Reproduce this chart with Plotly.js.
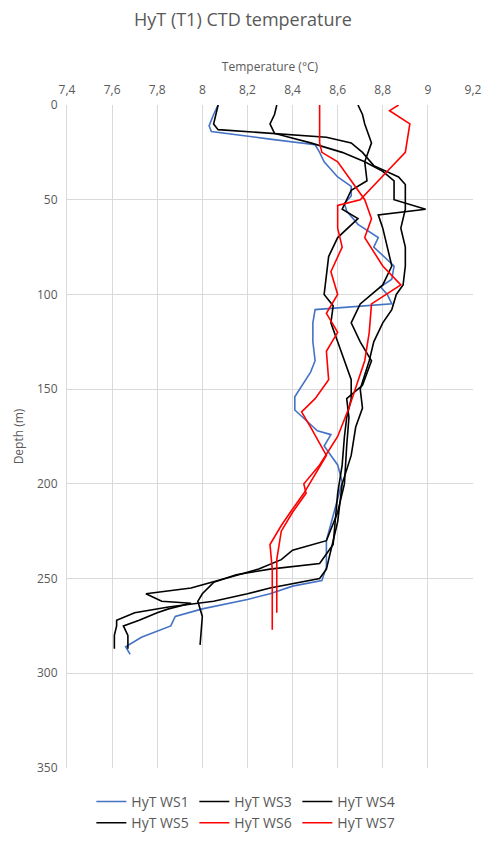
<!DOCTYPE html>
<html>
<head>
<meta charset="utf-8">
<script src="https://cdn.plot.ly/plotly-3.0.1.min.js"></script>
<style>html,body{margin:0;padding:0;background:#fff}#plot{width:486px;height:841px}</style>
</head>
<body>
<div id="plot"></div>
<script>
// DATA ====================================================
var ws1_depth = [0, 5, 11, 14, 18, 21, 25, 30, 38, 43, 48, 52, 56, 63, 70, 75, 85, 92, 96, 100, 105, 108, 115, 125, 135, 141, 154, 161, 172, 174, 180, 190, 199, 216, 230, 244, 251, 254, 258, 261, 266, 270, 275, 281, 286, 290];
var ws1_temp  = [8.07, 8.05, 8.03, 8.04, 8.3, 8.5, 8.52, 8.54, 8.6, 8.66, 8.66, 8.63, 8.64, 8.69, 8.78, 8.76, 8.85, 8.84, 8.79, 8.82, 8.84, 8.5, 8.49, 8.49, 8.5, 8.48, 8.41, 8.41, 8.51, 8.57, 8.54, 8.6, 8.62, 8.58, 8.55, 8.55, 8.53, 8.4, 8.3, 8.2, 8.0, 7.88, 7.86, 7.73, 7.66, 7.68];

var ws3_depth = [0, 5, 10, 13, 17, 20, 25, 32, 38, 42, 55, 65, 75, 85, 95, 100, 108, 115, 125, 135, 142, 150, 160, 170, 185, 200, 220, 235, 245, 250, 255, 258, 262, 265, 268, 272, 275, 280, 287];
var ws3_temp  = [8.07, 8.06, 8.05, 8.07, 8.55, 8.66, 8.71, 8.76, 8.87, 8.9, 8.9, 8.88, 8.9, 8.9, 8.89, 8.86, 8.84, 8.8, 8.76, 8.74, 8.72, 8.7, 8.71, 8.68, 8.66, 8.62, 8.6, 8.57, 8.55, 8.52, 8.3, 8.2, 8.05, 7.85, 7.7, 7.62, 7.62, 7.61, 7.61];

var ws4_depth = [0, 5, 10, 15, 20, 25, 30, 35, 40, 50, 55, 58, 65, 75, 85, 95, 105, 115, 125, 135, 148, 155, 165, 180, 200, 215, 230, 235, 240, 245, 250, 255, 258, 262, 263, 266, 268, 272, 275, 280, 287];
var ws4_temp  = [8.33, 8.32, 8.3, 8.32, 8.48, 8.62, 8.72, 8.8, 8.85, 8.85, 8.99, 8.78, 8.8, 8.82, 8.84, 8.8, 8.7, 8.66, 8.7, 8.75, 8.71, 8.64, 8.65, 8.64, 8.63, 8.6, 8.55, 8.4, 8.35, 8.25, 8.1, 7.95, 7.75, 7.82, 7.95, 7.85, 7.8, 7.72, 7.65, 7.67, 7.67];

var ws5_depth = [0, 5, 10, 20, 30, 40, 45, 55, 60, 70, 80, 90, 100, 106, 115, 125, 135, 145, 155, 165, 175, 190, 205, 220, 232, 242, 245, 248, 252, 258, 262, 270, 285];
var ws5_temp  = [8.69, 8.71, 8.72, 8.75, 8.72, 8.73, 8.66, 8.62, 8.69, 8.6, 8.56, 8.55, 8.54, 8.58, 8.57, 8.6, 8.63, 8.66, 8.66, 8.64, 8.63, 8.62, 8.6, 8.59, 8.58, 8.52, 8.3, 8.15, 8.05, 8.0, 7.98, 8.0, 7.99];

var ws6_depth = [0, 10, 20, 25, 30, 40, 50, 60, 70, 85, 95, 105, 120, 135, 150, 160, 175, 190, 200, 205, 215, 225, 240, 255, 268];
var ws6_temp  = [8.52, 8.52, 8.52, 8.53, 8.6, 8.66, 8.72, 8.75, 8.72, 8.8, 8.88, 8.75, 8.74, 8.72, 8.68, 8.65, 8.6, 8.52, 8.45, 8.46, 8.4, 8.35, 8.33, 8.33, 8.33];

var ws7_depth = [0, 3, 10, 25, 35, 45, 50, 53, 65, 75, 88, 100, 110, 120, 130, 145, 155, 162, 170, 185, 195, 205, 215, 222, 232, 245, 260, 277];
var ws7_temp  = [8.87, 8.83, 8.92, 8.9, 8.82, 8.74, 8.7, 8.6, 8.6, 8.62, 8.57, 8.6, 8.55, 8.6, 8.55, 8.56, 8.5, 8.44, 8.48, 8.55, 8.5, 8.45, 8.39, 8.35, 8.3, 8.31, 8.31, 8.31];

var names = ["HyT WS1", "HyT WS3", "HyT WS4", "HyT WS5", "HyT WS6", "HyT WS7"];
var colors = ["#4472c4", "#000000", "#000000", "#000000", "#ff0000", "#ff0000"];
var temps = [ws1_temp, ws3_temp, ws4_temp, ws5_temp, ws6_temp, ws7_temp];
var depths = [ws1_depth, ws3_depth, ws4_depth, ws5_depth, ws6_depth, ws7_depth];
var xticks = [7.4, 7.6, 7.8, 8, 8.2, 8.4, 8.6, 8.8, 9, 9.2];

// PLOT ====================================================
var data = [];
for (var i = 0; i < names.length; i++) {
    data.push({
        x: temps[i],
        y: depths[i],
        name: names[i],
        type: 'scatter',
        mode: 'lines',
        line: {color: colors[i], width: 1.6}
    });
}

var layout = {
    width: 486,
    height: 841,
    separators: ',.',
    font: {family: 'Open Sans, sans-serif', color: '#595959', size: 12},
    title: {text: 'HyT (T1) CTD temperature', font: {size: 18, color: '#595959'}, x: 0.5, y: 0.977, yanchor: 'middle'},
    xaxis: {
        side: 'top',
        range: [7.4, 9.2],
        tickvals: xticks,
        ticktext: xticks.map(function (v) { return String(v).replace('.', ','); }),
        ticklabelstandoff: 8,
        showgrid: true,
        gridcolor: '#d9d9d9',
        zeroline: false,
        showline: false,
        ticks: '',
        title: {text: 'Temperature (°C)', font: {size: 12, color: '#595959'}, standoff: 6}
    },
    yaxis: {
        range: [350, 0],
        dtick: 50,
        ticklabelstandoff: 6,
        showgrid: true,
        gridcolor: '#d9d9d9',
        zeroline: false,
        showline: true,
        linecolor: '#d9d9d9',
        ticks: '',
        title: {text: 'Depth (m)', font: {size: 12, color: '#595959'}, standoff: 10}
    },
    showlegend: true,
    legend: {
        orientation: 'h',
        x: 0.06, xanchor: 'left',
        yref: 'container',
        y: 0.034, yanchor: 'middle',
        entrywidth: 58,
        itemwidth: 30,
        font: {size: 14, color: '#595959'}
    },
    margin: {l: 67, r: 13, t: 105, b: 73},
    paper_bgcolor: '#fff',
    plot_bgcolor: '#fff'
};

Plotly.newPlot('plot', data, layout, {displayModeBar: false, staticPlot: true});
</script>
</body>
</html>
